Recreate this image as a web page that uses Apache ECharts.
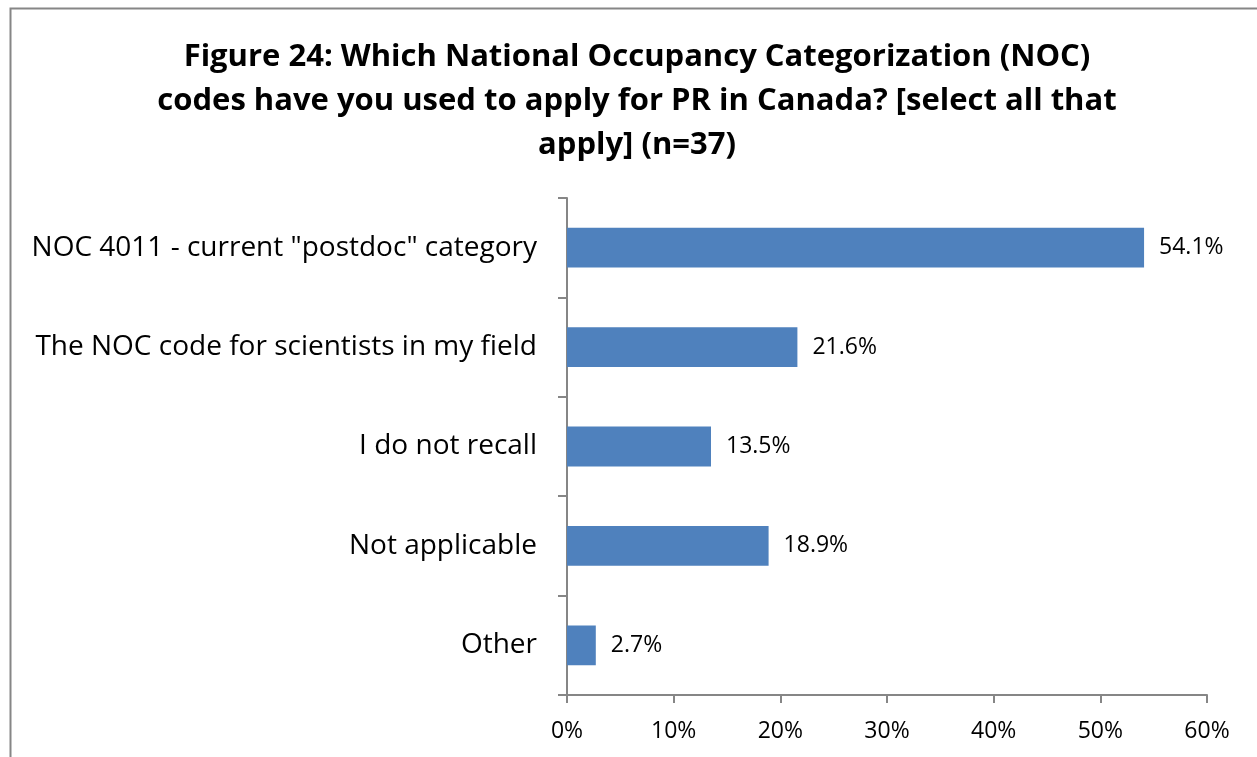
<!DOCTYPE html>
<html lang="en">
<head>
    <meta charset="UTF-8">
    <title>Figure 24</title>
    <style>
        html, body {margin: 0; padding: 0; background: #fff;}
    </style>
</head>
<body>
<div id="main" style="width: 1257px;height: 757px"></div>
</body>
<script src="https://cdn.jsdelivr.net/npm/echarts@6/dist/echarts.min.js"></script>
<script>
    // data, top to bottom
    const categories = [
        'NOC 4011 - current "postdoc" category',
        'The NOC code for scientists in my field',
        'I do not recall',
        'Not applicable',
        'Other'
    ]
    const values = [54.1, 21.6, 13.5, 18.9, 2.7]
    const xTicks = [0, 10, 20, 30, 40, 50, 60]

    const font = 'Open Sans'

    let chart = echarts.init(document.getElementById('main'))
    let option = {
        backgroundColor: '#fff',
        title: {
            text: 'Figure 24: Which National Occupancy Categorization (NOC)\ncodes have you used to apply for PR in Canada? [select all that\napply] (n=37)',
            left: 632,
            textAlign: 'center',
            top: 30,
            textStyle: {
                fontFamily: font,
                fontWeight: 'bold',
                fontSize: 31,
                lineHeight: 44,
                color: '#000'
            }
        },
        graphic: [{
            type: 'rect',
            shape: {x: 10.5, y: 8.5, width: 1270, height: 770},
            style: {fill: null, stroke: '#868686', lineWidth: 2},
            silent: true
        }],
        grid: {
            left: 567,
            right: 50,
            top: 198,
            bottom: 62,
            containLabel: false
        },
        xAxis: {
            type: 'value',
            min: xTicks[0],
            max: xTicks[xTicks.length - 1],
            interval: 10,
            axisLine: {show: true, lineStyle: {color: '#868686', width: 2}},
            axisTick: {show: true, length: 8, lineStyle: {color: '#868686', width: 2}},
            splitLine: {show: false},
            axisLabel: {
                formatter: v => v + '%',
                fontFamily: font,
                fontSize: 23,
                color: '#000',
                margin: 25
            }
        },
        yAxis: {
            type: 'category',
            data: categories,
            inverse: true,
            axisLine: {show: true, lineStyle: {color: '#868686', width: 2}},
            axisTick: {show: true, length: 9, lineStyle: {color: '#868686', width: 2}},
            axisLabel: {
                fontFamily: font,
                fontSize: 28,
                color: '#000',
                margin: 30
            }
        },
        series: [{
            type: 'bar',
            data: values,
            barCategoryGap: '60%',
            itemStyle: {color: '#4F81BD'},
            label: {
                show: true,
                position: 'right',
                distance: 15,
                formatter: p => p.value.toFixed(1) + '%',
                fontFamily: font,
                fontSize: 23,
                color: '#000'
            }
        }]
    }
    chart.setOption(option)
</script>
</html>
